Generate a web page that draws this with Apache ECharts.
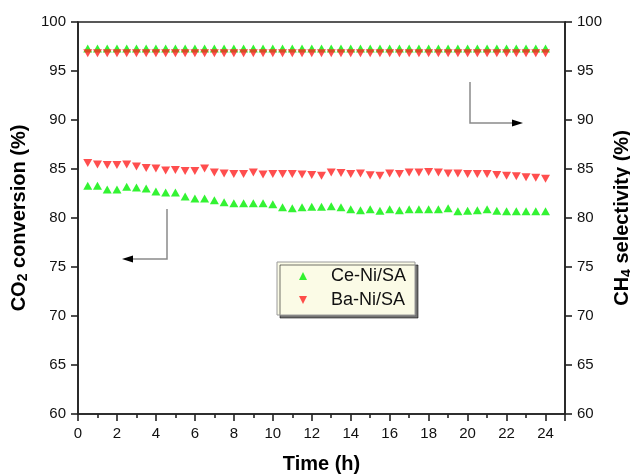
<!DOCTYPE html>
<html>
<head>
<meta charset="utf-8">
<script src="https://cdn.jsdelivr.net/npm/echarts@6/dist/echarts.min.js"></script>
<style>html,body{margin:0;padding:0;background:#fff}#c{width:630px;height:475px}</style>
</head>
<body>
<div id="c"></div>
<script>
var timeH = [0.5,1.0,1.5,2.0,2.5,3.0,3.5,4.0,4.5,5.0,5.5,6.0,6.5,7.0,7.5,8.0,8.5,9.0,9.5,10.0,10.5,11.0,11.5,12.0,12.5,13.0,13.5,14.0,14.5,15.0,15.5,16.0,16.5,17.0,17.5,18.0,18.5,19.0,19.5,20.0,20.5,21.0,21.5,22.0,22.5,23.0,23.5,24.0];
var ceConv = [83.3,83.3,82.9,82.9,83.2,83.1,83.0,82.7,82.6,82.6,82.2,82.0,82.0,81.8,81.6,81.5,81.5,81.5,81.5,81.4,81.1,81.0,81.1,81.15,81.15,81.2,81.1,80.9,80.8,80.9,80.75,80.9,80.8,80.9,80.9,80.9,80.9,81.0,80.7,80.75,80.8,80.9,80.75,80.7,80.7,80.7,80.7,80.7];
var baConv = [85.6,85.45,85.4,85.4,85.45,85.25,85.1,85.05,84.85,84.9,84.8,84.8,85.05,84.65,84.55,84.5,84.5,84.65,84.45,84.5,84.5,84.5,84.45,84.4,84.3,84.65,84.6,84.5,84.55,84.35,84.3,84.55,84.5,84.65,84.65,84.7,84.65,84.55,84.55,84.5,84.5,84.5,84.4,84.3,84.25,84.15,84.1,84.0];
var ceSel = [97.3,97.3,97.3,97.3,97.3,97.3,97.3,97.3,97.3,97.3,97.3,97.3,97.3,97.3,97.3,97.3,97.3,97.3,97.3,97.3,97.3,97.3,97.3,97.3,97.3,97.3,97.3,97.3,97.3,97.3,97.3,97.3,97.3,97.3,97.3,97.3,97.3,97.3,97.3,97.3,97.3,97.3,97.3,97.3,97.3,97.3,97.3,97.3];
var baSel = [96.8,96.8,96.8,96.8,96.8,96.8,96.8,96.8,96.8,96.8,96.8,96.8,96.8,96.8,96.8,96.8,96.8,96.8,96.8,96.8,96.8,96.8,96.8,96.8,96.8,96.8,96.8,96.8,96.8,96.8,96.8,96.8,96.8,96.8,96.8,96.8,96.8,96.8,96.8,96.8,96.8,96.8,96.8,96.8,96.8,96.8,96.8,96.8];
var seriesNames = ['Ce-Ni/SA','Ba-Ni/SA'];
var xTicks = {min:0, max:25, interval:2};
var yTicks = {min:60, max:100, interval:5};

function pairs(xs, ys){ return xs.map(function(x,i){ return [x, ys[i]]; }); }

var GREEN = '#00f000', RED = '#ff2222';
var DOWN = 'path://M0,0L10,0L5,10Z';
var FONT = '"Liberation Sans", Arial, sans-serif';
var chart = echarts.init(document.getElementById('c'), null, {renderer:'canvas'});

var axisCommon = {
  axisLine:{show:true, lineStyle:{color:'#222', width:1.6}},
  axisTick:{show:true, inside:false, length:7, lineStyle:{color:'#222', width:1.6}},
  axisLabel:{color:'#111', fontSize:15, fontFamily:FONT, margin:12},
  splitLine:{show:false}
};
var nameRich = {
  a:{fontSize:20, fontWeight:'bold', fontFamily:FONT, color:'#000'},
  s:{fontSize:14, fontWeight:'bold', fontFamily:FONT, color:'#000', verticalAlign:'bottom', padding:[8,0,0,0]}
};

chart.setOption({
  animation:false,
  backgroundColor:'#fff',
  grid:{left:78, right:65, top:22, bottom:61, containLabel:false, outerBoundsMode:'none',
        show:true, borderColor:'#222', borderWidth:1.6, backgroundColor:'transparent'},
  xAxis:Object.assign({}, axisCommon, {
    type:'value', min:xTicks.min, max:xTicks.max, interval:xTicks.interval,
    name:'Time (h)', nameLocation:'middle', nameGap:40,
    nameTextStyle:{fontSize:20, fontWeight:'bold', fontFamily:FONT, color:'#000'},
    minorTick:{show:true, splitNumber:2, length:4, lineStyle:{color:'#222', width:1.6}},
    axisLabel:{color:'#111', fontSize:15, fontFamily:FONT, margin:12,
      formatter:function(v){ return v>24 ? '' : String(v); }}
  }),
  yAxis:[
    Object.assign({}, axisCommon, {
      type:'value', position:'left', min:yTicks.min, max:yTicks.max, interval:yTicks.interval,
      name:'{a|CO}{s|2}{a| conversion (%)}', nameLocation:'middle', nameGap:45, nameRotate:90,
      nameTextStyle:{rich:nameRich}
    }),
    Object.assign({}, axisCommon, {
      type:'value', position:'right', min:yTicks.min, max:yTicks.max, interval:yTicks.interval,
      name:'{a|CH}{s|4}{a| selectivity (%)}', nameLocation:'middle', nameGap:46, nameRotate:90,
      nameTextStyle:{rich:nameRich}
    })
  ],
  legend:{
    show:true, orient:'vertical', left:277, top:262,
    data:[{name:seriesNames[0], icon:'triangle'},{name:seriesNames[1], icon:DOWN}],
    itemWidth:8, itemHeight:8, itemGap:6,
    padding:[5,9,6,22],
    backgroundColor:'#fbfbe6', borderColor:'#9a9a9a', borderWidth:1,
    shadowColor:'rgba(0,0,0,0.55)', shadowBlur:0, shadowOffsetX:3, shadowOffsetY:3,
    textStyle:{fontSize:18, fontFamily:FONT, color:'#111', padding:[0,0,0,19]},
    selectedMode:false
  },
  series:[
    {name:seriesNames[0], type:'scatter', xAxisIndex:0, yAxisIndex:0, data:pairs(timeH, ceConv),
     symbol:'triangle', symbolSize:[9,8], itemStyle:{color:GREEN}},
    {name:seriesNames[1], type:'scatter', xAxisIndex:0, yAxisIndex:0, data:pairs(timeH, baConv),
     symbol:DOWN, symbolSize:[9,8], itemStyle:{color:RED}},
    {name:seriesNames[0], type:'scatter', xAxisIndex:0, yAxisIndex:1, data:pairs(timeH, ceSel),
     symbol:'triangle', symbolSize:[9,8], itemStyle:{color:GREEN}},
    {name:seriesNames[1], type:'scatter', xAxisIndex:0, yAxisIndex:1, data:pairs(timeH, baSel),
     symbol:DOWN, symbolSize:[9,8], itemStyle:{color:RED}}
  ],
  graphic:[
    {type:'polyline', shape:{points:[[167,209],[167,259],[131,259]]}, style:{stroke:'#8a8a8a', lineWidth:1.5, fill:null}},
    {type:'polygon', shape:{points:[[122,259],[133,255.5],[133,262.5]]}, style:{fill:'#000'}},
    {type:'polyline', shape:{points:[[470,82],[470,123],[513,123]]}, style:{stroke:'#8a8a8a', lineWidth:1.5, fill:null}},
    {type:'polygon', shape:{points:[[523,123],[512,119.5],[512,126.5]]}, style:{fill:'#000'}}
  ]
});
</script>
</body>
</html>
